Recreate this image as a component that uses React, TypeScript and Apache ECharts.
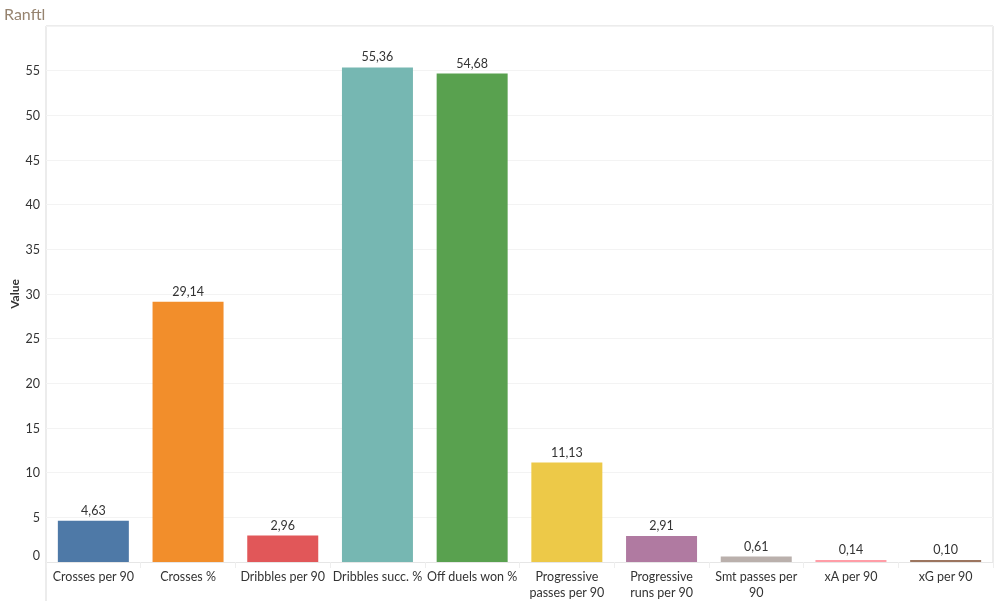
import React, { useEffect, useRef } from "react";
import * as echarts from "echarts";

const categories = [
  "Crosses per 90",
  "Crosses %",
  "Dribbles per 90",
  "Dribbles succ. %",
  "Off duels won %",
  "Progressive passes per 90",
  "Progressive runs per 90",
  "Smt passes per 90",
  "xA per 90",
  "xG per 90",
];
const values = [4.63, 29.14, 2.96, 55.36, 54.68, 11.13, 2.91, 0.61, 0.14, 0.1];
const colors = [
  "#4e79a7",
  "#f28e2b",
  "#e15759",
  "#76b7b2",
  "#59a14f",
  "#edc948",
  "#b07aa1",
  "#bab0ac",
  "#ff9da7",
  "#9c755f",
];
const wrapped: Record<string, string> = {
  "Progressive passes per 90": "Progressive\npasses per 90",
  "Progressive runs per 90": "Progressive\nruns per 90",
  "Smt passes per 90": "Smt passes per\n90",
};

const fmt = (v: number) => v.toFixed(2).replace(".", ",");

export default function App() {
  const ref = useRef<HTMLDivElement>(null);
  useEffect(() => {
    if (!ref.current) return;
    const chart = echarts.init(ref.current, null, { renderer: "svg" });
    const font = "Lato, 'Open Sans', sans-serif";
    chart.setOption({
      animation: false,
      textStyle: { fontFamily: font },
      title: {
        text: "Ranftl",
        left: -1,
        top: 0,
        textStyle: { fontSize: 16, fontWeight: "normal", color: "#96836f", fontFamily: font },
      },
      grid: { left: 46, right: 7, top: 26, bottom: 39, containLabel: false, outerBoundsMode: "none" },
      xAxis: {
        type: "category",
        data: categories,
        axisLine: { show: true, lineStyle: { color: "#e6e6e6" } },
        axisTick: { show: true, length: 6, lineStyle: { color: "#eeeeee" } },
        axisLabel: {
          interval: 0,
          margin: 6,
          fontSize: 12.5,
          color: "#333",
          lineHeight: 16,
          formatter: (v: string) => wrapped[v] || v,
        },
      },
      yAxis: {
        type: "value",
        min: 0,
        max: 60,
        interval: 5,
        name: "Value",
        nameLocation: "middle",
        nameGap: 26,
        nameMoveOverlap: false,
        nameTextStyle: { fontWeight: "bold", fontSize: 12, color: "#333" },
        axisLine: { show: false },
        axisTick: { show: false },
        splitLine: { lineStyle: { color: "#f3f3f3" } },
        axisLabel: {
          showMaxLabel: false,
          fontSize: 12.5,
          color: "#333",
          margin: 6,
          formatter: (v: number) => (v === 0 ? "{z|0}" : String(v)),
          rich: { z: { fontSize: 12.5, color: "#333", padding: [0, 0, 14, 0] } },
        },
      },
      series: [
        {
          type: "bar",
          barWidth: 71,
          barMinHeight: 2,
          data: values.map((v, i) => ({ value: v, itemStyle: { color: colors[i] } })),
          label: {
            show: true,
            position: "top",
            distance: 4,
            fontSize: 12.5,
            color: "#333",
            formatter: (p: any) => fmt(p.value),
          },
        },
      ],
      graphic: [
        { type: "line", shape: { x1: 46, y1: 26, x2: 993, y2: 26 }, style: { stroke: "#d9d9d9", lineWidth: 1 } },
        { type: "line", shape: { x1: 46, y1: 26, x2: 46, y2: 601 }, style: { stroke: "#d9d9d9", lineWidth: 1 } },
        { type: "line", shape: { x1: 993, y1: 26, x2: 993, y2: 562 }, style: { stroke: "#d9d9d9", lineWidth: 1 } },
      ],
    });
    return () => chart.dispose();
  }, []);
  return <div ref={ref} style={{ position: "fixed", left: 0, top: 0, width: 1000, height: 601 }} />;
}
